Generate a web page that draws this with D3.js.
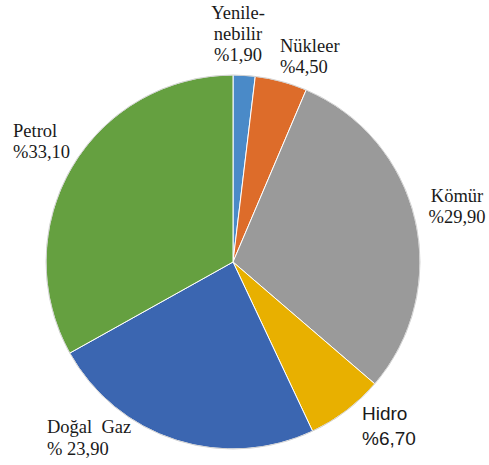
<!DOCTYPE html>
<html>
<head>
<meta charset="utf-8">
<script src="https://cdn.jsdelivr.net/npm/d3@7"></script>
<style>
  body { margin: 0; background: #fff; }
</style>
</head>
<body>
<div id="container"></div>
<script>
// energy share data, clockwise from 12 o'clock
const categories = ["Yenilenebilir", "Nükleer", "Kömür", "Hidro", "Doğal Gaz", "Petrol"];
const shares = [1.9, 4.5, 29.9, 6.7, 23.9, 33.1];
const labelLines = [
    ["Yenile-", "nebilir", "%1,90"],
    ["Nükleer", "%4,50"],
    ["Kömür", "%29,90"],
    ["Hidro", "%6,70"],
    ["Doğal  Gaz", "% 23,90"],
    ["Petrol", "%33,10"]
];

const width = 489, height = 465;
const cx = 233, cy = 262, radius = 187;

const color = d3.scaleOrdinal()
    .domain(categories)
    .range(["#4A8AC8", "#DD6C2A", "#9A9A9A", "#E8B000", "#3B66B1", "#65A040"]);

const serif = "'Liberation Serif', 'Times New Roman', Times, serif";
const sans = "'Liberation Sans', Arial, sans-serif";

// where each label block sits (first baseline), and line spacing
const labelLayout = {
    "Yenilenebilir": { x: 238, y: 19, anchor: "middle", dy: 21 },
    "Nükleer": { x: 280, y: 52, anchor: "start", dy: 21 },
    "Kömür": { x: 457, y: 202, anchor: "middle", dy: 21 },
    "Hidro": { x: 362, y: 420, anchor: "start", dy: 25, sans: true },
    "Doğal Gaz": { x: 47, y: 433, anchor: "start", dy: 22 },
    "Petrol": { x: 13, y: 137, anchor: "start", dy: 21 }
};

const data = categories.map((c, i) => ({ name: c, value: shares[i], lines: labelLines[i] }));

const svg = d3.select("#container")
    .append("svg")
    .attr("width", width)
    .attr("height", height);

const pie = d3.pie().sort(null).value(d => d.value);
const arc = d3.arc().innerRadius(0).outerRadius(radius);

const g = svg.append("g")
    .attr("transform", `translate(${cx}, ${cy})`);

g.selectAll("path")
    .data(pie(data))
    .enter()
    .append("path")
    .attr("d", arc)
    .attr("fill", d => color(d.data.name))
    .attr("stroke", "#fff")
    .attr("stroke-width", 1);

// thin grey rim like the original
g.append("circle")
    .attr("r", radius)
    .attr("fill", "none")
    .attr("stroke", "#c8c8c8")
    .attr("stroke-width", 0.8);

const labels = svg.selectAll(".lbl")
    .data(data)
    .enter()
    .append("text")
    .attr("class", "lbl")
    .attr("font-family", d => labelLayout[d.name].sans ? sans : serif)
    .attr("font-size", d => labelLayout[d.name].sans ? "19px" : "18.5px")
    .attr("fill", "#1a1a1a")
    .attr("text-anchor", d => labelLayout[d.name].anchor)
    .style("white-space", "pre");

labels.selectAll("tspan")
    .data(d => d.lines.map((t, i) => ({ t, i, pos: labelLayout[d.name] })))
    .enter()
    .append("tspan")
    .attr("x", d => d.pos.x)
    .attr("y", d => d.pos.y + d.i * d.pos.dy)
    .text(d => d.t);
</script>
</body>
</html>
